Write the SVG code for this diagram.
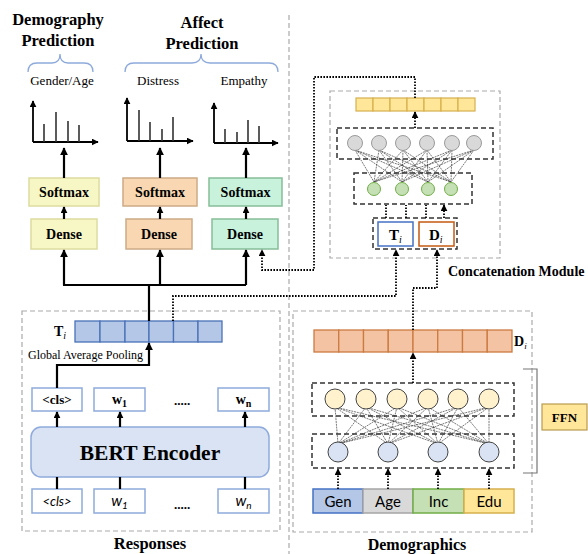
<svg xmlns="http://www.w3.org/2000/svg" width="588" height="554" viewBox="0 0 588 554">
<style>
.ser{font-family:"Liberation Serif","Times New Roman",serif;fill:#000}
.b{font-weight:bold}
.sans{font-family:Lato,"Liberation Sans",sans-serif;fill:#000}
.ax{stroke:#000;stroke-width:1.8;fill:none}
.bar{stroke:#333;stroke-width:1.6}
.con{stroke:#000;stroke-width:2.2;fill:none}
.dot{stroke:#000;stroke-width:1.8;fill:none;stroke-dasharray:1.6 1.4}
.gdash{stroke:#aaa;stroke-width:1.2;fill:none;stroke-dasharray:5 3}
.kdash{stroke:#333;stroke-width:1.5;fill:none;stroke-dasharray:5 3}
.mesh{stroke:#333;stroke-width:0.65;stroke-dasharray:2 0.8}
.brace{stroke:#8eaadb;stroke-width:1.3;fill:none}
.tok{fill:#fff;stroke:#8faadc;stroke-width:1.5}
</style>
<defs>
<marker id="ah" viewBox="0 0 10 10" refX="9" refY="5" markerWidth="8" markerHeight="8" markerUnits="userSpaceOnUse" orient="auto"><path d="M0,0 L10,5 L0,10 z" fill="#000"/></marker>
<marker id="ahs" viewBox="0 0 10 10" refX="9" refY="5" markerWidth="7" markerHeight="7" markerUnits="userSpaceOnUse" orient="auto"><path d="M0,0 L10,5 L0,10 z" fill="#000"/></marker>
</defs>

<!-- divider and region boxes -->
<line x1="289" y1="15" x2="289" y2="554" class="gdash"/>
<rect x="22" y="311" width="258" height="220" class="gdash"/>
<rect x="293" y="311" width="239" height="221" class="gdash"/>
<rect x="330" y="91" width="170" height="167" class="gdash"/>

<!-- titles -->
<g id="title-demography">
<text class="ser b" x="58" y="25" font-size="16.5" text-anchor="middle">Demography</text>
<text class="ser b" x="58" y="46" font-size="16.5" text-anchor="middle">Prediction</text>
<path class="brace" d="M28,72 Q28,63 37,63 L52,63 Q60,63 60,54 Q60,63 68,63 L84,63 Q93,63 93,72"/>
<text class="ser" x="62" y="85" font-size="13" text-anchor="middle">Gender/Age</text>
</g>
<g id="title-affect">
<text class="ser b" x="202" y="28" font-size="16.5" text-anchor="middle">Affect</text>
<text class="ser b" x="202" y="49" font-size="16.5" text-anchor="middle">Prediction</text>
<path class="brace" d="M125,72 Q125,63 134,63 L192,63 Q201,63 201,54 Q201,63 210,63 L269,63 Q278,63 278,72"/>
<text class="ser" x="158" y="85" font-size="13" text-anchor="middle">Distress</text>
<text class="ser" x="244" y="85" font-size="13" text-anchor="middle">Empathy</text>
</g>

<!-- charts -->
<g id="chart-gender">
<path class="ax" d="M33,142 L33,101" marker-end="url(#ahs)"/>
<path class="ax" d="M33,142 L98,142" marker-end="url(#ahs)"/>
<line class="bar" x1="44" y1="142" x2="44" y2="124"/>
<line class="bar" x1="56" y1="142" x2="56" y2="112"/>
<line class="bar" x1="68" y1="142" x2="68" y2="121"/>
<line class="bar" x1="79" y1="142" x2="79" y2="125"/>
</g>
<g id="chart-distress">
<path class="ax" d="M127,141 L127,98" marker-end="url(#ahs)"/>
<path class="ax" d="M127,141 L193,141" marker-end="url(#ahs)"/>
<line class="bar" x1="139" y1="141" x2="139" y2="110"/>
<line class="bar" x1="150" y1="141" x2="150" y2="122"/>
<line class="bar" x1="162" y1="141" x2="162" y2="129"/>
<line class="bar" x1="173" y1="141" x2="173" y2="117"/>
</g>
<g id="chart-empathy">
<path class="ax" d="M214,143 L214,103" marker-end="url(#ahs)"/>
<path class="ax" d="M214,143 L278,143" marker-end="url(#ahs)"/>
<line class="bar" x1="225" y1="143" x2="225" y2="129"/>
<line class="bar" x1="237" y1="143" x2="237" y2="132"/>
<line class="bar" x1="248" y1="143" x2="248" y2="120"/>
<line class="bar" x1="259" y1="143" x2="259" y2="126"/>
</g>

<!-- heads -->
<g id="softmax-1"><rect x="29" y="178" width="70" height="28" fill="#f7f7c6" stroke="#dcdca0" stroke-width="1.5"/><text class="ser b" x="64" y="197" font-size="14" text-anchor="middle">Softmax</text></g>
<g id="softmax-2"><rect x="123" y="178" width="74" height="28" fill="#f8d7b2" stroke="#ccab86" stroke-width="1.5"/><text class="ser b" x="160" y="197" font-size="14" text-anchor="middle">Softmax</text></g>
<g id="softmax-3"><rect x="209" y="178" width="73" height="28" fill="#c8f2dc" stroke="#86bd98" stroke-width="1.5"/><text class="ser b" x="245.5" y="197" font-size="14" text-anchor="middle">Softmax</text></g>
<g id="dense-1"><rect x="31" y="219" width="66" height="30" fill="#f7f7c6" stroke="#dcdca0" stroke-width="1.5"/><text class="ser b" x="64" y="239" font-size="14" text-anchor="middle">Dense</text></g>
<g id="dense-2"><rect x="126" y="219" width="66" height="30" fill="#f8d7b2" stroke="#ccab86" stroke-width="1.5"/><text class="ser b" x="159" y="239" font-size="14" text-anchor="middle">Dense</text></g>
<g id="dense-3"><rect x="212" y="219" width="66" height="30" fill="#c8f2dc" stroke="#86bd98" stroke-width="1.5"/><text class="ser b" x="245" y="239" font-size="14" text-anchor="middle">Dense</text></g>

<!-- responses side -->
<g id="ti-vector">
<text class="ser b" x="54" y="336" font-size="14">T<tspan font-style="italic" font-weight="normal" font-size="10" dy="3">i</tspan></text>
<g fill="#b4c7e7" stroke="#4a72b8" stroke-width="1.3">
<rect x="75" y="321" width="25" height="21"/><rect x="100" y="321" width="25" height="21"/><rect x="125" y="321" width="24" height="21"/><rect x="149" y="321" width="24.5" height="21"/><rect x="173.5" y="321" width="24.5" height="21"/><rect x="198" y="321" width="24" height="21"/>
</g>
</g>
<text class="ser" x="28" y="359" font-size="12">Global Average Pooling</text>
<g id="out-cls"><rect class="tok" x="32" y="388" width="50" height="23"/><text class="ser b" x="57" y="404" font-size="13" text-anchor="middle">&lt;cls&gt;</text></g>
<g id="out-w1"><rect class="tok" x="94" y="388" width="51" height="23"/><text class="ser b" x="119.5" y="404" font-size="14" text-anchor="middle">w<tspan font-size="10" dy="3">1</tspan></text></g>
<text class="ser b" x="182" y="405" font-size="13" text-anchor="middle">.....</text>
<g id="out-wn"><rect class="tok" x="218" y="388" width="51" height="23"/><text class="ser b" x="243.5" y="404" font-size="14" text-anchor="middle">w<tspan font-size="10" dy="3">n</tspan></text></g>
<g id="bert"><rect x="31" y="427" width="238" height="50" rx="10" fill="#dae3f3" stroke="#8faadc" stroke-width="1.5"/><text class="ser b" x="150" y="460" font-size="21.5" text-anchor="middle">BERT Encoder</text></g>
<g id="in-cls"><rect class="tok" x="32" y="489" width="50" height="24"/><text class="sans" x="57" y="506" font-size="13" font-style="italic" text-anchor="middle">&lt;cls&gt;</text></g>
<g id="in-w1"><rect class="tok" x="94" y="489" width="51" height="24"/><text class="sans" x="119.5" y="506" font-size="15" font-style="italic" text-anchor="middle">w<tspan font-size="10" dy="3">1</tspan></text></g>
<text class="ser b" x="182" y="509" font-size="13" text-anchor="middle">.....</text>
<g id="in-wn"><rect class="tok" x="218" y="489" width="51" height="24"/><text class="sans" x="243.5" y="506" font-size="15" font-style="italic" text-anchor="middle">w<tspan font-size="10" dy="3">n</tspan></text></g>
<text class="ser b" x="150" y="549" font-size="16.5" text-anchor="middle">Responses</text>

<!-- concatenation module -->
<g id="concat-vector" fill="#ffe699" stroke="#d6b04e" stroke-width="1.2">
<rect x="356" y="98" width="17" height="13"/><rect x="373" y="98" width="17" height="13"/><rect x="390" y="98" width="17" height="13"/><rect x="407" y="98" width="17" height="13"/><rect x="424" y="98" width="17" height="13"/><rect x="441" y="98" width="17" height="13"/><rect x="458" y="98" width="17" height="13"/>
</g>
<g id="concat-mesh">
<g class="mesh">
<path d="M355,150 L374,182 M355,150 L402,182 M355,150 L428,182 M355,150 L451,182 M379,150 L374,182 M379,150 L402,182 M379,150 L428,182 M379,150 L451,182 M403,150 L374,182 M403,150 L402,182 M403,150 L428,182 M403,150 L451,182 M427,150 L374,182 M427,150 L402,182 M427,150 L428,182 M427,150 L451,182 M452,150 L374,182 M452,150 L402,182 M452,150 L428,182 M452,150 L451,182 M474,150 L374,182 M474,150 L402,182 M474,150 L428,182 M474,150 L451,182"/>
</g>
</g>
<g id="concat-hidden">
<rect class="kdash" x="337" y="128" width="156" height="31"/>
<g fill="#d9d9d9" stroke="#9a9a9a" stroke-width="1">
<circle cx="355" cy="143" r="7.5"/><circle cx="379" cy="143" r="7.5"/><circle cx="403" cy="143" r="7.5"/><circle cx="427" cy="143" r="7.5"/><circle cx="452" cy="143" r="7.5"/><circle cx="474" cy="143" r="7.5"/>
</g>
</g>
<g id="concat-input">
<rect class="kdash" x="354" y="173" width="118" height="31"/>
<g fill="#c5e0b4" stroke="#70ad47" stroke-width="1">
<circle cx="374" cy="189" r="6.5"/><circle cx="402" cy="189" r="6.5"/><circle cx="428" cy="189" r="6.5"/><circle cx="451" cy="189" r="6.5"/>
</g>
</g>
<g id="concat-ti-di">
<rect class="kdash" x="373" y="218" width="84" height="31"/>
<rect x="378" y="222" width="35" height="24" fill="#fff" stroke="#4472c4" stroke-width="1.5"/>
<text class="ser b" x="389" y="240" font-size="15">T<tspan font-style="italic" font-weight="normal" font-size="10" dy="3">i</tspan></text>
<rect x="419" y="222" width="35" height="24" fill="#fff" stroke="#c55a11" stroke-width="1.5"/>
<text class="ser b" x="429" y="240" font-size="15">D<tspan font-style="italic" font-weight="normal" font-size="10" dy="3">i</tspan></text>
</g>
<text class="ser b" x="448" y="276" font-size="14">Concatenation Module</text>

<!-- demographics -->
<g id="di-vector">
<g fill="#f4c3a3" stroke="#cc7a40" stroke-width="1.3">
<rect x="314" y="330" width="24.75" height="22"/><rect x="338.75" y="330" width="24.75" height="22"/><rect x="363.5" y="330" width="24.75" height="22"/><rect x="388.25" y="330" width="24.75" height="22"/><rect x="413" y="330" width="24.75" height="22"/><rect x="437.75" y="330" width="24.75" height="22"/><rect x="462.5" y="330" width="24.75" height="22"/><rect x="487.25" y="330" width="24.75" height="22"/>
</g>
<text class="ser b" x="514" y="346" font-size="14">D<tspan font-style="italic" font-weight="normal" font-size="9" dy="3">i</tspan></text>
</g>
<g id="ffn-mesh" class="mesh">
<path d="M335,407 L338,444 M335,407 L388,444 M335,407 L438,444 M335,407 L489,444 M366,407 L338,444 M366,407 L388,444 M366,407 L438,444 M366,407 L489,444 M397,407 L338,444 M397,407 L388,444 M397,407 L438,444 M397,407 L489,444 M428,407 L338,444 M428,407 L388,444 M428,407 L438,444 M428,407 L489,444 M458,407 L338,444 M458,407 L388,444 M458,407 L438,444 M458,407 L489,444 M489,407 L338,444 M489,407 L388,444 M489,407 L438,444 M489,407 L489,444"/>
</g>
<g id="ffn-hidden">
<rect class="kdash" x="312" y="383" width="202" height="33"/>
<g fill="#fff2cc" stroke="#444" stroke-width="1">
<circle cx="335" cy="399" r="10"/><circle cx="366" cy="399" r="10"/><circle cx="397" cy="399" r="10"/><circle cx="428" cy="399" r="10"/><circle cx="458" cy="399" r="10"/><circle cx="489" cy="399" r="10"/>
</g>
</g>
<g id="ffn-input">
<rect class="kdash" x="312" y="434" width="202" height="34"/>
<g fill="#dae3f3" stroke="#444" stroke-width="1">
<circle cx="338" cy="452" r="10"/><circle cx="388" cy="452" r="10"/><circle cx="438" cy="452" r="10"/><circle cx="489" cy="452" r="10"/>
</g>
</g>
<g id="demo-inputs">
<rect x="313" y="489" width="50" height="24" fill="#b4c7e7" stroke="#4472c4" stroke-width="1.5"/>
<text class="sans" x="338" y="506.5" font-size="15" text-anchor="middle">Gen</text>
<rect x="363" y="489" width="50" height="24" fill="#d9d9d9" stroke="#a5a5a5" stroke-width="1.5"/>
<text class="sans" x="388" y="506.5" font-size="15" text-anchor="middle">Age</text>
<rect x="413" y="489" width="51" height="24" fill="#c5e0b4" stroke="#70ad47" stroke-width="1.5"/>
<text class="sans" x="438.5" y="506.5" font-size="15" text-anchor="middle">Inc</text>
<rect x="464" y="489" width="50" height="24" fill="#ffe699" stroke="#d6b04e" stroke-width="1.5"/>
<text class="sans" x="489" y="506.5" font-size="15" text-anchor="middle">Edu</text>
</g>
<g id="ffn-label">
<path d="M523,369 L537,369 L537,473 L523,473" stroke="#777" stroke-width="1.2" fill="none"/>
<rect x="542" y="404" width="45" height="26" fill="#ffe699" stroke="#b89c50" stroke-width="1.2"/>
<text class="ser b" x="564.5" y="422" font-size="13" text-anchor="middle">FFN</text>
</g>
<text class="ser b" x="417" y="549.5" font-size="16" text-anchor="middle">Demographics</text>

<!-- connectors -->
<g id="connectors">
<path class="con" d="M64,178 L64,148" marker-end="url(#ah)"/>
<path class="con" d="M160,178 L160,148" marker-end="url(#ah)"/>
<path class="con" d="M246,178 L246,148" marker-end="url(#ah)"/>
<path class="con" d="M64,219 L64,207" marker-end="url(#ahs)"/>
<path class="con" d="M160,219 L160,207" marker-end="url(#ahs)"/>
<path class="con" d="M246,219 L246,207" marker-end="url(#ahs)"/>
<path class="con" d="M149,321 L149,285"/>
<path class="con" d="M63,285 L246,285"/>
<path class="con" d="M64,285 L64,250" marker-end="url(#ah)"/>
<path class="con" d="M160,285 L160,250" marker-end="url(#ah)"/>
<path class="con" d="M246,285 L246,250" marker-end="url(#ah)"/>
<path class="con" d="M57,388 L57,365 L149,365 L149,343" marker-end="url(#ah)" stroke-width="2"/>
<path class="con" d="M57,427 L57,412" marker-end="url(#ahs)" stroke-width="2"/>
<path class="con" d="M120,427 L120,412" marker-end="url(#ahs)" stroke-width="2"/>
<path class="con" d="M245,427 L245,412" marker-end="url(#ahs)" stroke-width="2"/>
<path class="con" d="M57,489 L57,477 M120,489 L120,477 M245,489 L245,477" stroke-width="2"/>
<path class="dot" d="M173,321 L173,296 L396,296 L396,250" marker-end="url(#ahs)"/>
<path class="dot" d="M413,330 L413,288 L437,288 L437,250" marker-end="url(#ahs)"/>
<path class="dot" d="M415,98 L415,77 L314,77 L314,270 L262,270 L262,250" marker-end="url(#ahs)"/>
<path class="dot" d="M415,128 L415,112" marker-end="url(#ahs)"/>
<path class="dot" d="M386,218 L386,205 M406,218 L406,205 M426,218 L426,205 M444,218 L444,205" marker-end="url(#ahs)"/>
<path class="dot" d="M413,383 L413,353" marker-end="url(#ahs)"/>
<path class="dot" d="M338,489 L338,469" marker-end="url(#ahs)"/>
<path class="dot" d="M388,489 L388,469" marker-end="url(#ahs)"/>
<path class="dot" d="M438,489 L438,469" marker-end="url(#ahs)"/>
<path class="dot" d="M489,489 L489,469" marker-end="url(#ahs)"/>
</g>
</svg>
